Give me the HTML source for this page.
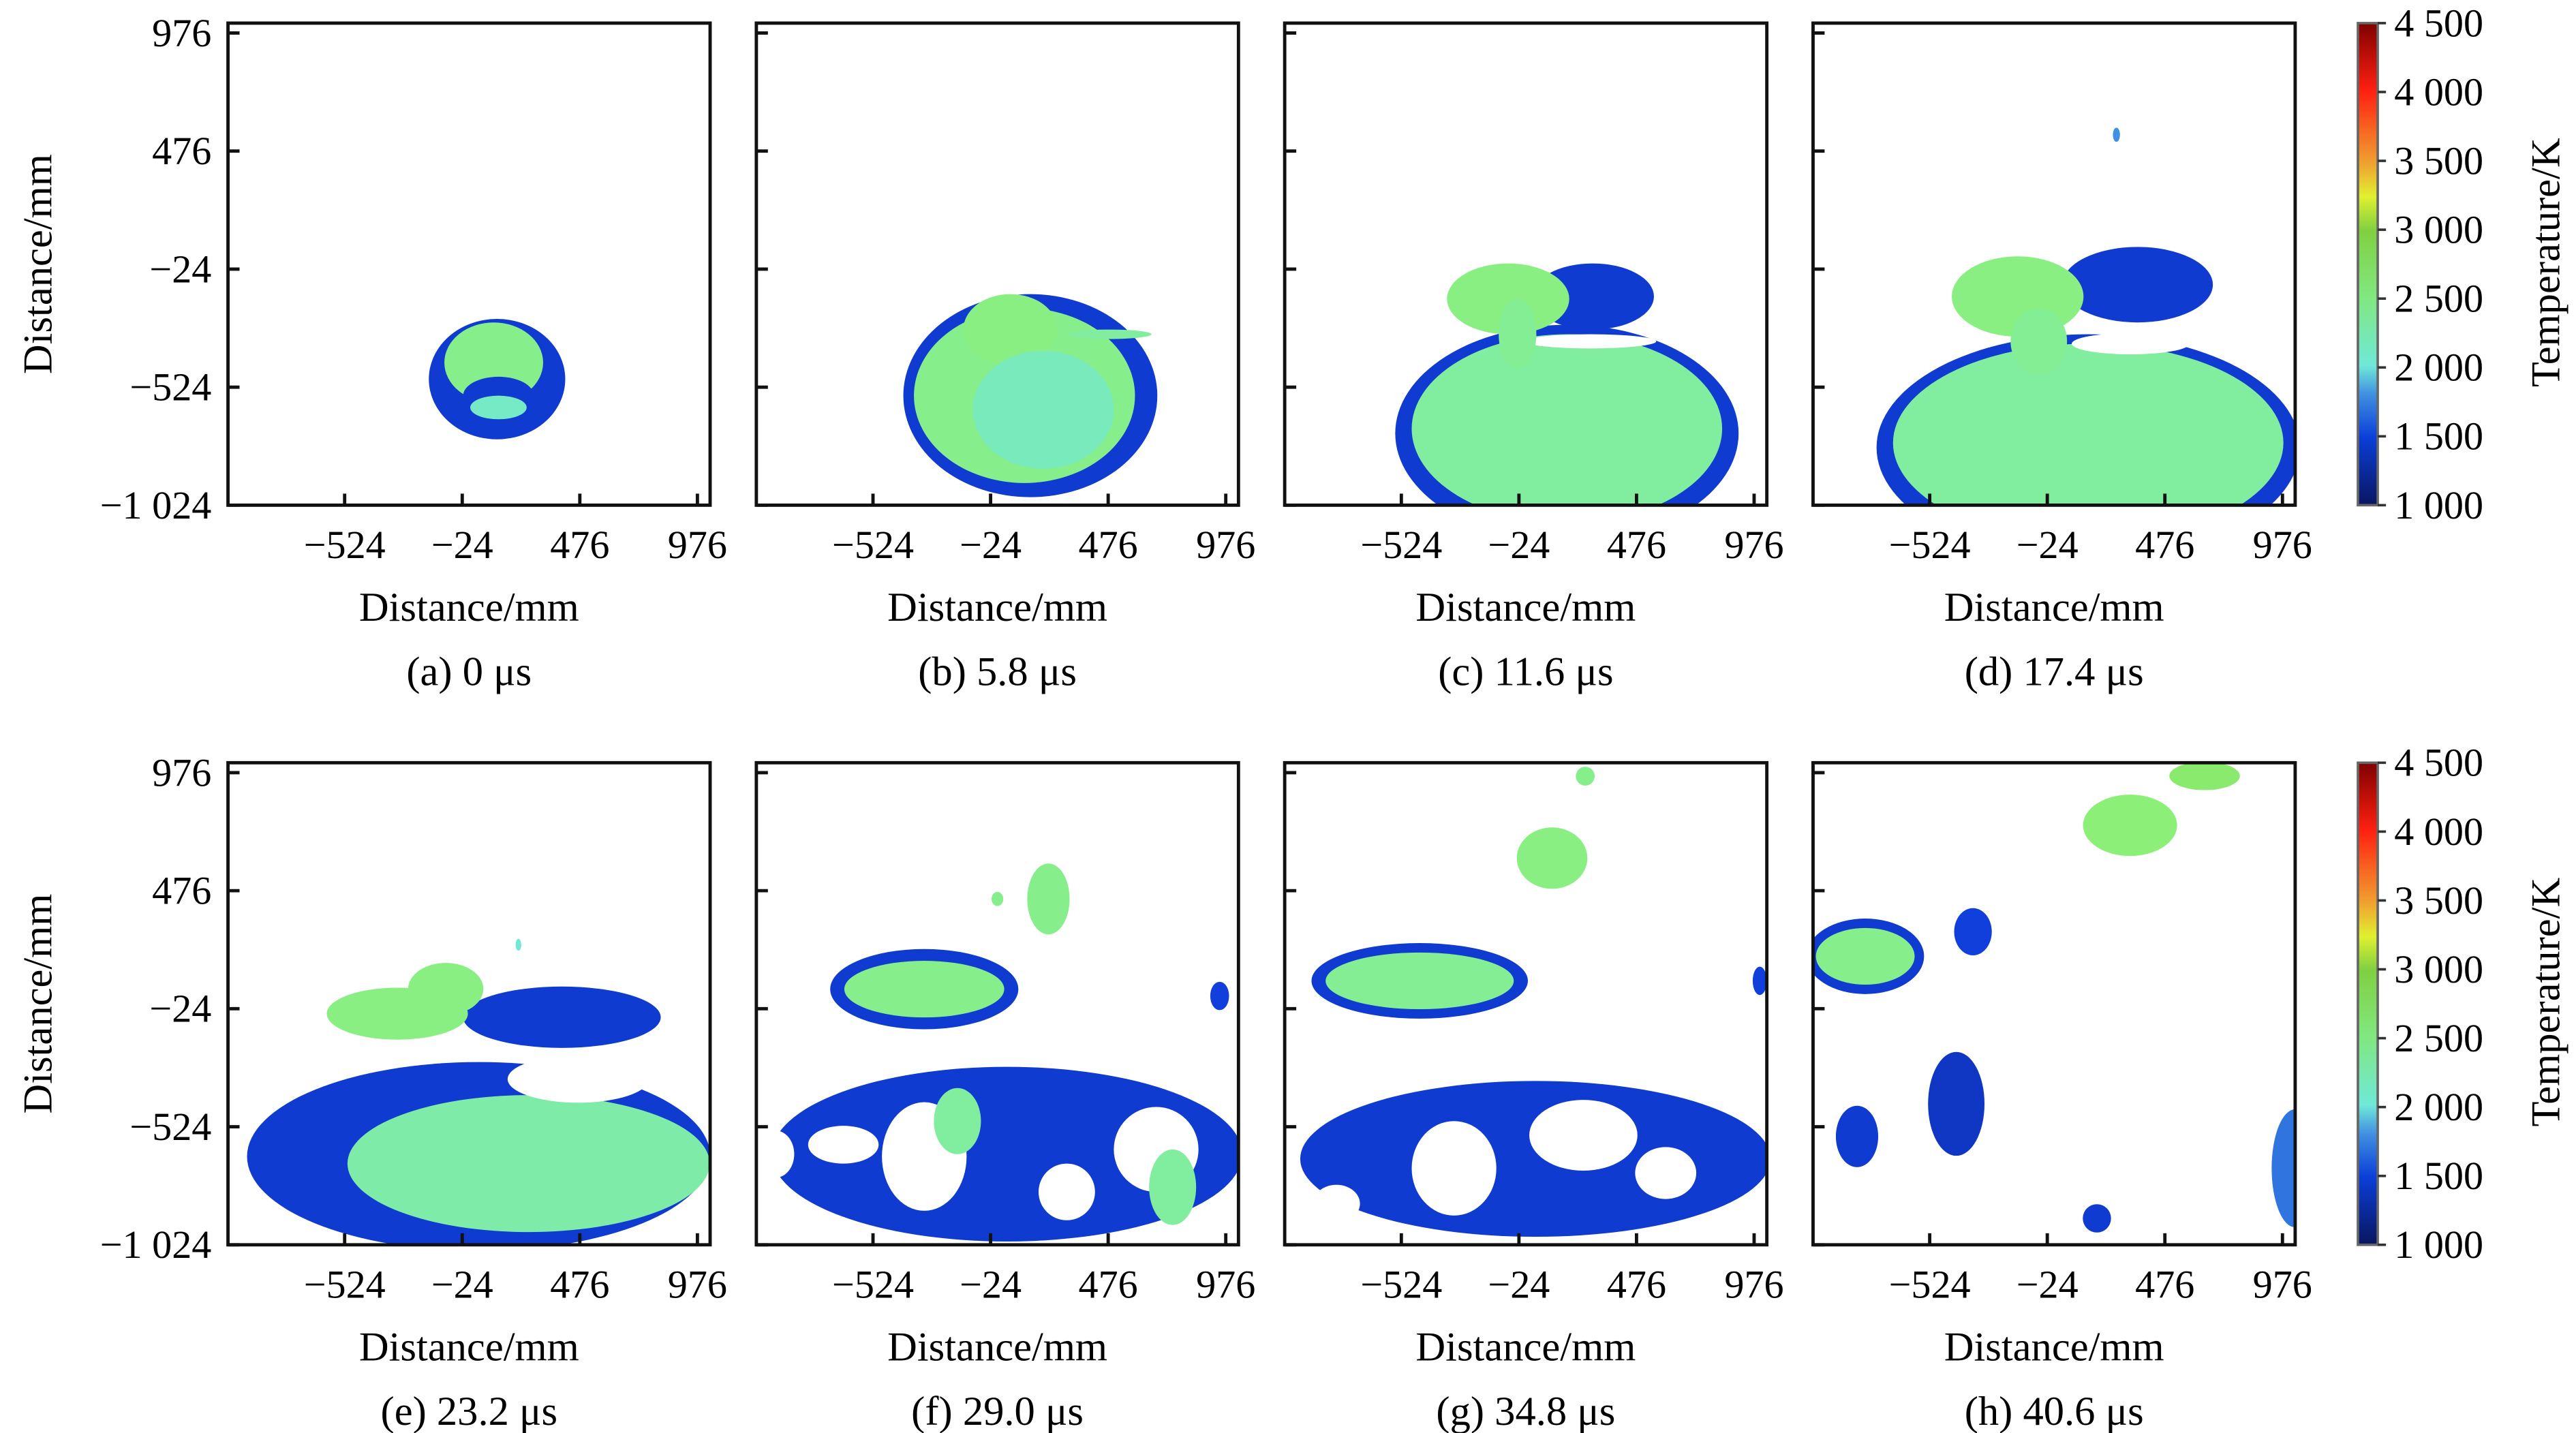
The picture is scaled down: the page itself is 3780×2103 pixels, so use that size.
<!DOCTYPE html>
<html><head><meta charset="utf-8"><style>
html,body{margin:0;padding:0;background:#fff;}
svg{display:block;font-family:"Liberation Serif",serif;}
</style></head><body>
<svg id="fig" width="3780" height="2103" viewBox="0 0 1560 868" xmlns="http://www.w3.org/2000/svg">
<defs>
<linearGradient id="cbg" x1="0" y1="1" x2="0" y2="0">
<stop offset="0" stop-color="#0a1560"/><stop offset="0.14" stop-color="#0a3fd8"/>
<stop offset="0.23" stop-color="#4090e0"/><stop offset="0.29" stop-color="#70e8d8"/>
<stop offset="0.43" stop-color="#80e880"/><stop offset="0.57" stop-color="#80d040"/>
<stop offset="0.64" stop-color="#e0f030"/><stop offset="0.71" stop-color="#f0a030"/>
<stop offset="0.86" stop-color="#ff2010"/><stop offset="1" stop-color="#800000"/>
</linearGradient>
</defs>
</svg>
<script>
const xTicks=[-524,-24,476,976];
const yTicks=[976,476,-24,-524,-1024];
const tickLabels=["976","476","\u221224","\u2212524","\u22121 024"];
const xTickLabels=["\u2212524","\u221224","476","976"];
const captions=["(a) 0 \u03bcs","(b) 5.8 \u03bcs","(c) 11.6 \u03bcs","(d) 17.4 \u03bcs","(e) 23.2 \u03bcs","(f) 29.0 \u03bcs","(g) 34.8 \u03bcs","(h) 40.6 \u03bcs"];
const cbTicks=[1000,1500,2000,2500,3000,3500,4000,4500];
const cbLabels=["1 000","1 500","2 000","2 500","3 000","3 500","4 000","4 500"];
// blobs: [x, y, rx, ry, temperature K] (0 = background gap)
const blobsA=[[124,-490,290,255,1450],[110,-420,210,170,2400],[130,-560,150,80,1450],[130,-610,120,50,2100]];
const blobsB=[[145,-560,540,430,1450],[120,-560,470,370,2400],[60,-280,200,150,2450],[200,-620,300,250,2150],[480,-300,180,20,2300]];
const blobsC=[[180,-720,730,460,1450],[180,-700,660,400,2300],[290,-140,260,140,1450],[280,-330,280,30,0],[-70,-150,260,150,2450],[-30,-300,80,150,2350]];
const blobsD=[[150,-780,900,480,1450],[150,-760,830,420,2300],[360,-90,320,160,1450],[330,-340,250,45,0],[-150,-140,280,170,2450],[-60,-330,120,140,2350],[270,545,15,30,1800]];
const blobsE=[[46,-650,985,400,1450],[258,-680,770,290,2250],[400,-60,420,130,1450],[469,-322,300,100,0],[-300,-45,300,110,2450],[-94,60,160,110,2450],[215,247,12,25,2000]];
const blobsF=[[46,-640,1000,370,1450],[-306,-650,180,230,0],[-650,-600,150,80,0],[680,-620,180,180,0],[-939,-640,80,100,0],[300,-800,120,120,0],[-165,-500,100,140,2300],[750,-780,100,160,2300],[-306,59,400,170,1450],[-306,59,340,120,2400],[222,441,90,150,2400],[5,441,25,30,2400],[950,30,40,60,1500]];
const blobsG=[[46,-660,1000,330,1450],[-300,-700,180,200,0],[250,-560,230,150,0],[600,-720,130,110,0],[-800,-850,100,80,0],[-446,94,460,160,1450],[-446,94,400,120,2350],[117,614,150,130,2450],[258,961,40,40,2400],[1000,94,30,60,1500]];
const blobsH=[[-798,198,250,160,1450],[-798,198,210,120,2400],[-340,302,80,100,1500],[328,753,200,130,2500],[645,962,150,60,2600],[-411,-427,120,220,1400],[-833,-565,90,130,1450],[1030,-700,100,250,1700],[187,-912,60,60,1450]];
const allBlobs=[blobsA,blobsB,blobsC,blobsD,blobsE,blobsF,blobsG,blobsH];

const NS="http://www.w3.org/2000/svg";
const svg=document.getElementById('fig');
const X0=-1020,X1=1030,Y0=-1024,Y1=1018,W=292,H=292;
function mk(t,a,p){const e=document.createElementNS(NS,t);for(const k in a)e.setAttribute(k,a[k]);(p||svg).appendChild(e);return e;}
const stops=[[1000,[10,21,96]],[1500,[16,63,220]],[1800,[64,144,224]],[2000,[112,232,216]],[2500,[140,240,120]],[3000,[128,208,64]],[3200,[224,240,48]],[3500,[240,160,48]],[4000,[255,32,16]],[4500,[128,0,0]]];
function color(t){if(t<=0)return'#fff';for(let i=1;i<stops.length;i++){if(t<=stops[i][0]){const a=stops[i-1],b=stops[i];const f=(t-a[0])/(b[0]-a[0]);const c=a[1].map((v,j)=>Math.round(v+(b[1][j]-v)*f));return`rgb(${c})`;}}return'#800000';}

for(let p=0;p<8;p++){
  const ox=138+320*(p%4), oy=14+448*Math.floor(p/4);
  const sx=v=>ox+(v-X0)/(X1-X0)*W, sy=v=>oy+H-(v-Y0)/(Y1-Y0)*H;
  const g=mk('g',{});
  
  
  const cp=mk('clipPath',{id:'cp'+p},g);mk('rect',{x:ox,y:oy,width:W,height:H},cp);
  const hg=mk('g',{'clip-path':'url(#cp'+p+')'},g);
  
  
  allBlobs[p].forEach(b=>{
    const e=mk('ellipse',{cx:sx(b[0]),cy:sy(b[1]),rx:b[2]/(X1-X0)*W,ry:b[3]/(Y1-Y0)*H,fill:color(b[4])},hg);
    
    
  });
  const fr=mk('rect',{x:ox,y:oy,width:W,height:H,fill:'none',stroke:'#111','stroke-width':2},g);
  
  
  xTicks.forEach((v,i)=>{
    mk('line',{x1:sx(v),x2:sx(v),y1:oy+H,y2:oy+H-7,stroke:'#111','stroke-width':2},g);
    const t=mk('text',{x:sx(v),y:oy+H+32,'text-anchor':'middle','font-size':24},g);t.textContent=xTickLabels[i];
    
    
  });
  yTicks.forEach((v,i)=>{
    mk('line',{x1:ox,x2:ox+7,y1:sy(v),y2:sy(v),stroke:'#111','stroke-width':2},g);
    if(p%4===0){const t=mk('text',{x:ox-10,y:sy(v)+8,'text-anchor':'end','font-size':24},g);t.textContent=tickLabels[i];
    
    }
  });
  const xt=mk('text',{x:ox+146,y:oy+H+70,'text-anchor':'middle','font-size':25},g);xt.textContent='Distance/mm';
  
  
  const ct=mk('text',{x:ox+146,y:oy+H+109,'text-anchor':'middle','font-size':25},g);ct.textContent=captions[p];
  
  
  if(p%4===0){const yt=mk('text',{transform:`translate(31,${oy+146}) rotate(-90)`,'text-anchor':'middle','font-size':25},g);yt.textContent='Distance/mm';
  
  }
}
for(let r=0;r<2;r++){
  const oy=14+448*r,x=1428,w=12;
  const g=mk('g',{});
  
  
  mk('rect',{x:x,y:oy,width:w,height:H,fill:'url(#cbg)',stroke:'#666','stroke-width':1.5},g);
  const cy=v=>oy+H-(v-1000)/3500*H;
  cbTicks.forEach((v,i)=>{
    mk('line',{x1:x+w,x2:x+w+5,y1:cy(v),y2:cy(v),stroke:'#333','stroke-width':1.5},g);
    const t=mk('text',{x:1450,y:cy(v)+8,'font-size':24},g);t.textContent=cbLabels[i];
    
    
  });
  const tt=mk('text',{transform:`translate(1550,${oy+145}) rotate(-90)`,'text-anchor':'middle','font-size':25},g);tt.textContent='Temperature/K';
  
  
}
</script>
</body></html>
